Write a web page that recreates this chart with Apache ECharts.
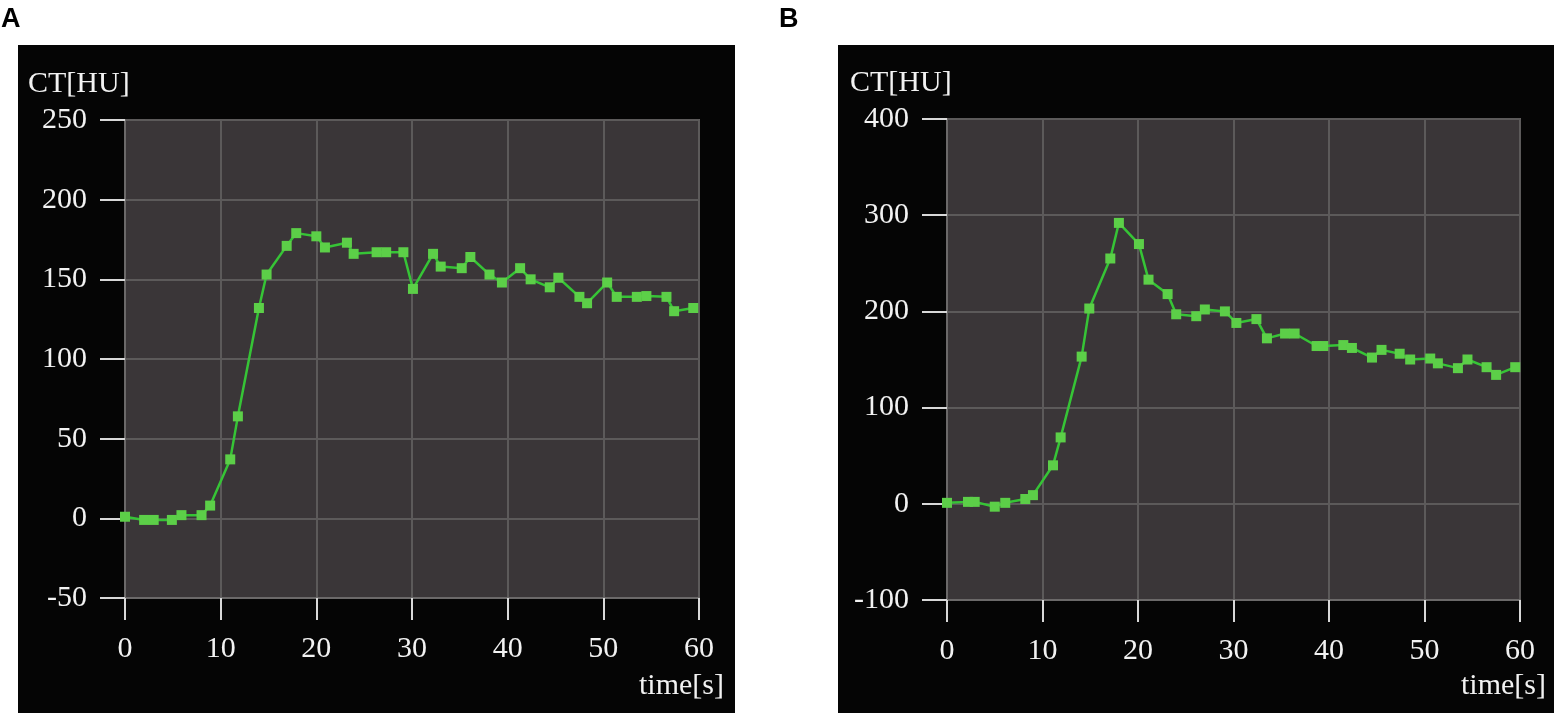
<!DOCTYPE html>
<html>
	<head>
		<meta charset="utf-8">
		<title>CT time curves</title>
		<style type="text/css">
			* {
				margin: 0;
				padding: 0;
			}

			html,
			body {
				width: 100%;
				height: 100%;
				background: #ffffff;
				overflow: hidden;
			}

			.panel {
				position: absolute;
				background: #050505;
			}

			#panelA {
				left: 18px;
				top: 45px;
				width: 717px;
				height: 668px;
			}

			#panelB {
				left: 838px;
				top: 45px;
				width: 716px;
				height: 668px;
			}

			#chart {
				position: absolute;
				left: 0;
				top: 0;
				width: 1554px;
				height: 713px;
			}
		</style>
	</head>
	<body>
		<div class="panel" id="panelA"></div>
		<div class="panel" id="panelB"></div>
		<div id="chart"></div>
		<script src="https://cdn.jsdelivr.net/npm/echarts@6/dist/echarts.min.js"></script>
		<script type="text/javascript">
			// panel A: time [s] and CT [HU]
			var timesA = [0, 2, 3, 4.9, 5.9, 8, 8.9, 11, 11.8, 14, 14.8, 16.9, 17.9, 20, 20.9, 23.2, 23.9, 26.3, 27.3, 29.1,
				30.1, 32.2, 33, 35.2, 36.1, 38.1, 39.4, 41.3, 42.4, 44.4, 45.3, 47.5, 48.3, 50.4, 51.4, 53.5, 54.5, 56.6, 57.4, 59.4]
			var valuesA = [1, -1, -1, -1, 2, 2, 8, 37, 64, 132, 153, 171, 179, 177, 170, 173, 166, 167, 167, 167,
				144, 166, 158, 157, 164, 153, 148, 157, 150, 145, 151, 139, 135, 148, 139, 139, 139.5, 139, 130, 132]

			// panel B
			var timesB = [0, 2.2, 2.9, 5, 6.1, 8.2, 9, 11.1, 11.9, 14.1, 14.9, 17.1, 18, 20.1, 21.1, 23.1, 24, 26.1, 27, 29.1,
				30.3, 32.4, 33.5, 35.4, 36.4, 38.7, 39.4, 41.5, 42.4, 44.5, 45.5, 47.4, 48.5, 50.6, 51.4, 53.5, 54.5, 56.5, 57.5, 59.5]
			var valuesB = [1, 2, 2, -3, 1, 5, 9, 40, 69, 153, 203, 255, 292, 270, 233, 218, 197, 195, 202, 200,
				188, 192, 172, 177, 177, 164, 164, 165, 162, 152, 160, 156, 150, 151, 146, 141, 150, 142, 134, 142]

			var xTicks = [0, 60, 10]
			var yTicksA = [-50, 250, 50]
			var yTicksB = [-100, 400, 100]

			var serif = 'Liberation Serif'
			var txtColor = '#f2f2f2'

			function pairs(xs, ys) {
				var out = []
				for (let i = 0; i < xs.length; i++) {
					out.push([xs[i], ys[i]])
				}
				return out
			}

			function makeX(idx) {
				return {
					type: 'value',
					gridIndex: idx,
					min: xTicks[0],
					max: xTicks[1],
					interval: xTicks[2],
					axisLine: {
						show: true,
						onZero: false,
						lineStyle: { color: '#6b6969', width: 2 }
					},
					axisTick: {
						show: true,
						length: 22,
						lineStyle: { color: '#d8d8d8', width: 2 }
					},
					axisLabel: {
						margin: 36,
						color: txtColor,
						fontFamily: serif,
						fontSize: 30
					},
					splitLine: {
						show: true,
						lineStyle: { color: '#5c5a5a', width: 2 }
					}
				}
			}

			function makeY(idx, t) {
				return {
					type: 'value',
					gridIndex: idx,
					min: t[0],
					max: t[1],
					interval: t[2],
					axisLine: {
						show: true,
						onZero: false,
						lineStyle: { color: '#6b6969', width: 2 }
					},
					axisTick: {
						show: true,
						length: 25,
						lineStyle: { color: '#d8d8d8', width: 2 }
					},
					axisLabel: {
						margin: 38,
						color: txtColor,
						fontFamily: serif,
						fontSize: 30
					},
					splitLine: {
						show: true,
						lineStyle: { color: '#5c5a5a', width: 2 }
					}
				}
			}

			function makeSeries(idx, data) {
				return {
					type: 'line',
					xAxisIndex: idx,
					yAxisIndex: idx,
					data: data,
					symbol: 'rect',
					symbolSize: 10,
					showSymbol: true,
					animation: false,
					lineStyle: { color: '#36c436', width: 2.5 },
					itemStyle: { color: '#5ccf48', borderWidth: 0 }
				}
			}

			var myChart = echarts.init(document.getElementById('chart'))
			var option = {
				backgroundColor: 'transparent',
				animation: false,
				grid: [{
					left: 125,
					top: 120,
					width: 574,
					height: 478,
					show: true,
					backgroundColor: '#3a3638',
					borderColor: '#626060',
					borderWidth: 2
				}, {
					left: 947,
					top: 119,
					width: 573,
					height: 481,
					show: true,
					backgroundColor: '#3a3638',
					borderColor: '#626060',
					borderWidth: 2
				}],
				xAxis: [makeX(0), makeX(1)],
				yAxis: [makeY(0, yTicksA), makeY(1, yTicksB)],
				series: [makeSeries(0, pairs(timesA, valuesA)), makeSeries(1, pairs(timesB, valuesB))],
				graphic: [{
					type: 'text', left: 1, top: 6,
					style: { text: 'A', font: 'bold 27px "Liberation Sans"', fill: '#000' }
				}, {
					type: 'text', left: 779, top: 6,
					style: { text: 'B', font: 'bold 27px "Liberation Sans"', fill: '#000' }
				}, {
					type: 'text', left: 28, top: 69,
					style: { text: 'CT[HU]', font: '30px "Liberation Serif"', fill: txtColor }
				}, {
					type: 'text', left: 850, top: 68,
					style: { text: 'CT[HU]', font: '30px "Liberation Serif"', fill: txtColor }
				}, {
					type: 'text', left: 639, top: 671,
					style: { text: 'time[s]', font: '30px "Liberation Serif"', fill: txtColor }
				}, {
					type: 'text', left: 1461, top: 671,
					style: { text: 'time[s]', font: '30px "Liberation Serif"', fill: txtColor }
				}]
			}
			myChart.setOption(option)
		</script>
	</body>
</html>
